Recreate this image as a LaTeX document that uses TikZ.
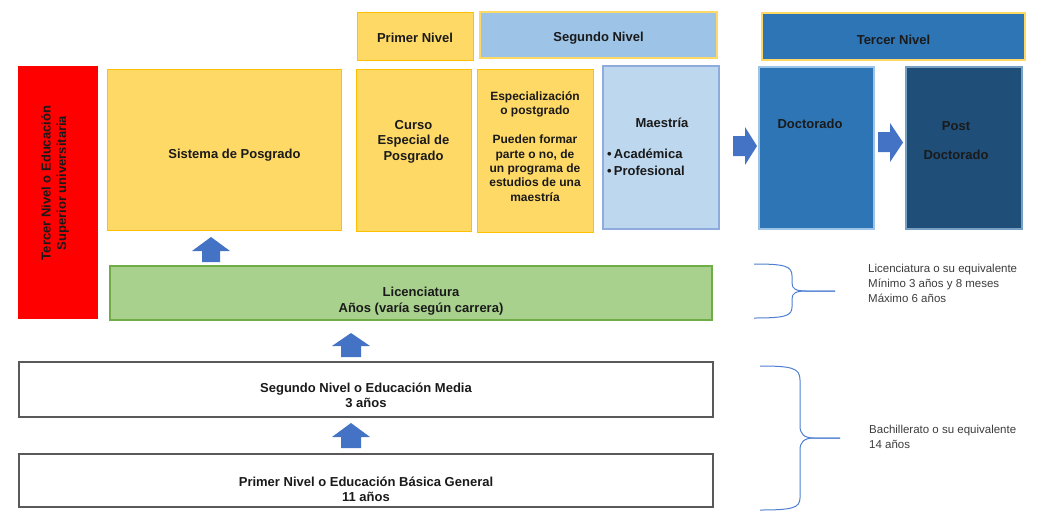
\documentclass[tikz,border=0pt]{standalone}
\usepackage{fontspec}
\setmainfont{Liberation Sans}
\definecolor{txt}{HTML}{1A1A1A}
\definecolor{yelfill}{HTML}{FFD966}
\definecolor{yelline}{HTML}{FFC000}
\definecolor{lbfill}{HTML}{9DC3E6}
\definecolor{mafill}{HTML}{BDD7EE}
\definecolor{maline}{HTML}{8FAADC}
\definecolor{mbfill}{HTML}{2E75B6}
\definecolor{dbfill}{HTML}{1F4E79}
\definecolor{arrowc}{HTML}{4472C4}
\definecolor{grfill}{HTML}{A9D18E}
\definecolor{grline}{HTML}{70AD47}
\definecolor{gyline}{HTML}{595959}
\definecolor{brc}{HTML}{4F7FD0}
\begin{document}
\begin{tikzpicture}[x=1pt,y=-1pt,
  base/.style={rectangle, inner sep=0pt, text=txt, font=\fontsize{13}{15.5}\selectfont\bfseries, align=center},
  yelbox/.style={base, fill=yelfill, draw=yelline, line width=0.8pt},
  hdrbox/.style={base, draw=yelfill, line width=1.2pt},
  lab/.style={inner sep=0pt, text=txt, font=\fontsize{13}{15.5}\selectfont\bfseries, align=center},
  side/.style={inner sep=0pt, text=txt!85, font=\fontsize{11.5}{15}\selectfont, align=left, anchor=north west},
  brace/.style={draw=brc, line width=1pt},
  blk/.style={fill=arrowc}
]
\useasboundingbox (0,0) rectangle (1050,512);

% left red box
\node[base, fill=red, minimum width=80pt, minimum height=253pt] (red) at (58,192.5) {};
\node[lab, rotate=90] (redt) at (55,183) {Tercer Nivel o Educación\\Superior universitaria};

% top row
\node[yelbox, minimum width=234pt, minimum height=161pt] (sis) at (224,149.5) {};
\node[lab] (sist) at (234.5,155) {Sistema de Posgrado};

\node[yelbox, minimum width=116pt, minimum height=48pt] (prh) at (415,36) {};
\node[lab] (prht) at (415,38) {Primer Nivel};
\node[yelbox, minimum width=115pt, minimum height=162pt] (cur) at (413.5,150) {};
\node[lab] (curt) at (413.5,141.5) {Curso\\Especial de\\Posgrado};

\node[hdrbox, fill=lbfill, minimum width=237pt, minimum height=46pt] (sgh) at (598.5,35) {};
\node[lab] (sght) at (598.5,38) {Segundo Nivel};
\node[yelbox, minimum width=116pt, minimum height=163pt] (esp) at (535,150.5) {};
\node[lab, font=\fontsize{12}{14.4}\selectfont\bfseries] (espt) at (535,146.5)
  {Especialización\\o postgrado\\[14.4pt]Pueden formar\\parte o no, de\\un programa de\\estudios de una\\maestría};
\node[base, fill=mafill, draw=maline, line width=1.2pt, minimum width=116pt, minimum height=163pt] (mae) at (661,147.5) {};
\node[lab] (maet) at (662,123) {Maestría};
\node[lab, align=left, anchor=west, font=\fontsize{13}{17}\selectfont\bfseries] (maeb) at (607,162.5)
  {\textbullet\,Académica\\\textbullet\,Profesional};

\node[hdrbox, fill=mbfill, minimum width=263pt, minimum height=47pt] (tch) at (893.5,36.5) {};
\node[lab] (tcht) at (893.5,40) {Tercer Nivel};
\node[base, fill=mbfill, draw=lbfill, line width=1.2pt, minimum width=115pt, minimum height=162pt] (doc) at (816.5,148) {};
\node[lab] (doct) at (810,124) {Doctorado};
\node[base, fill=dbfill, draw=lbfill!70!dbfill, line width=1.2pt, minimum width=116pt, minimum height=162pt] (pos) at (964,148) {};
\node[lab] (post) at (956,140.5) {Post\\[13.5pt]Doctorado};

% right block arrows
\fill[blk] (733,136) -- (745,136) -- (745,127) -- (757,146) -- (745,165) -- (745,156) -- (733,156) -- cycle;
\fill[blk] (878,132) -- (890,132) -- (890,123) -- (903,142.5) -- (890,162) -- (890,152) -- (878,152) -- cycle;

% Licenciatura
\node[base, fill=grfill, draw=grline, line width=1.6pt, minimum width=602pt, minimum height=54pt] (lic) at (411,293) {};
\node[lab] (lict) at (421,301) {Licenciatura\\Años (varía según carrera)};

% lower boxes
\node[base, fill=white, draw=gyline, line width=1.6pt, minimum width=694pt, minimum height=55pt] (seg) at (366,389.5) {};
\node[lab] (segt) at (366,395.5) {Segundo Nivel o Educación Media\\3 años};
\node[base, fill=white, draw=gyline, line width=1.6pt, minimum width=694pt, minimum height=53pt] (pri) at (366,480.5) {};
\node[lab] (prit) at (366,489.5) {Primer Nivel o Educación Básica General\\11 años};

% up block arrows
\fill[blk] (202,262) -- (202,251) -- (192,251) -- (211,237) -- (230,251) -- (220,251) -- (220,262) -- cycle;
\fill[blk] (341,357) -- (341,346) -- (332,346) -- (351,333) -- (370,346) -- (361,346) -- (361,357) -- cycle;
\fill[blk] (341,448) -- (341,437) -- (332,437) -- (351,423) -- (370,437) -- (361,437) -- (361,448) -- cycle;

% braces
\draw[brace] (754,264) .. controls (785,264) and (792,266) .. (792,276) -- (792,283)
  .. controls (792,289) and (796,291) .. (806,291) -- (835,291);
\draw[brace] (835,291) -- (806,291) .. controls (796,291) and (792,293) .. (792,299) -- (792,307)
  .. controls (792,316) and (785,318) .. (754,318);
\draw[brace] (760,366) .. controls (792,366) and (800,368) .. (800,380) -- (800,426)
  .. controls (800,434) and (804,438) .. (814,438) -- (840,438);
\draw[brace] (840,438) -- (814,438) .. controls (804,438) and (800,442) .. (800,450) -- (800,498)
  .. controls (800,508) and (792,510) .. (760,510);

\node[side] (t1) at (868,264) {Licenciatura o su equivalente\\Mínimo 3 años y 8 meses\\Máximo 6 años};
\node[side] (t2) at (869,425) {Bachillerato o su equivalente\\14 años};
\end{tikzpicture}
\end{document}
